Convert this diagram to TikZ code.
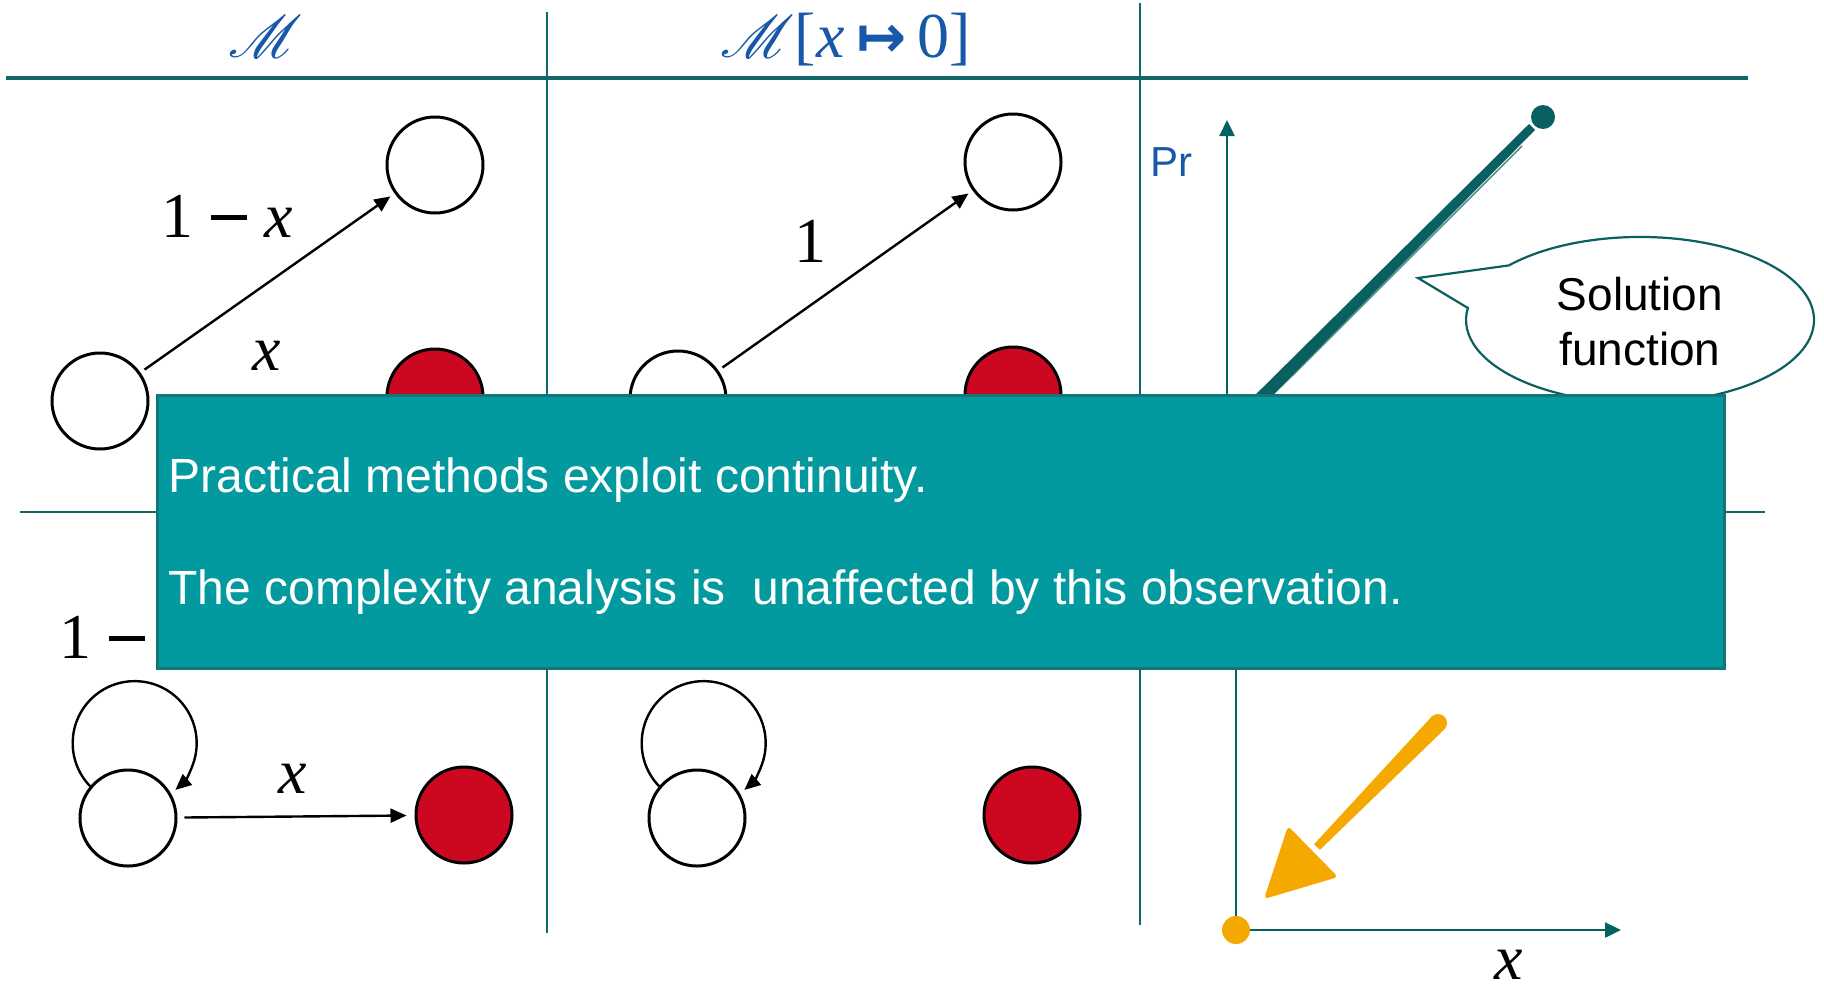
\documentclass[tikz,border=0pt]{standalone}
\usepackage{fontspec}
\usepackage{mathrsfs}
\usetikzlibrary{arrows.meta}
\newfontfamily\tms{Liberation Serif}
\newfontfamily\arl{Liberation Sans}
\newfontfamily\dvs{DejaVu Sans}
\definecolor{gridc}{RGB}{18,104,104}
\definecolor{axc}{RGB}{6,98,96}
\definecolor{boxfill}{RGB}{2,153,159}
\definecolor{boxline}{RGB}{18,118,119}
\definecolor{tred}{RGB}{204,8,32}
\definecolor{tblue}{RGB}{24,88,168}
\definecolor{torange}{RGB}{245,168,0}
\definecolor{soln}{RGB}{10,96,96}
\newcommand{\bigscrM}{\scalebox{1.2}[1.2]{$\mathscr{M}$}}
\newcommand{\thickminus}{\rule[0.27em]{0.56em}{0.07em}}
\begin{document}
\begin{tikzpicture}[x=0.5pt,y=-0.5pt,
  st/.style={circle,draw=black,line width=1.5pt,minimum size=48pt,inner sep=0pt,fill=white},
  rd/.style={st,fill=tred},
  arr/.style={-{Triangle[length=8pt,width=7pt]},line width=1.2pt,shorten <=2.5pt,shorten >=2.5pt},
  looparr/.style={-{Triangle[length=8pt,width=7pt]},line width=1.2pt},
  lbl/.style={font=\fontsize{32}{36}\selectfont\tms,inner sep=0pt,anchor=base},
  hdr/.style={font=\fontsize{32}{36}\selectfont\tms,text=tblue,inner sep=0pt,anchor=base},
  vline/.style={draw=gridc,line width=1pt},
  axis/.style={draw=axc,line width=1.2pt},
  axarr/.style={axis,-{Triangle[length=8pt,width=7.5pt]}},
  boxtext/.style={font=\fontsize{24}{28}\selectfont\arl,text=white,inner sep=0pt,anchor=base west},
  calltext/.style={font=\fontsize{23}{27}\selectfont\arl,text=black,inner sep=0pt,anchor=base}]
\useasboundingbox (0,0) rectangle (1824,991);
\fill[white] (0,0) rectangle (1824,991);

% grid
\coordinate (v1t) at (547,12);  \coordinate (v1b) at (547,933);
\coordinate (v2t) at (1140,3);  \coordinate (v2b) at (1140,925);
\coordinate (h1l) at (6,78);    \coordinate (h1r) at (1748,78);
\coordinate (h2l) at (20,512);  \coordinate (h2r) at (1765,512);
\draw[vline] (v1t) -- (v1b);
\draw[vline] (v2t) -- (v2b);
\draw[draw=gridc,line width=2pt] (h1l) -- (h1r);
\draw[draw=gridc,line width=1.4pt] (h2l) -- (h2r);

% headers
\node[hdr] (hM) at (266,57) {\bigscrM};
\node[hdr] (hM0) at (846,57) {\bigscrM[\textit{x}\hspace{0.18em}{\dvs\bfseries\fontsize{30}{34}\selectfont ↦}\hspace{0.18em}0]};

% top-left panel
\node[st] (A) at (100,401) {};
\node[st] (B) at (435,165) {};
\node[rd] (C) at (435,397) {};
\draw[arr] (A) -- (B);
\node[lbl] (l1) at (227,237) {1\hspace{0.27em}\thickminus\hspace{0.27em}\textit{x}};
\node[lbl] (l2) at (267,370) {\textit{x}};

% top-middle panel
\node[st] (D) at (678,399) {};
\node[st] (E) at (1013,162) {};
\node[rd] (F) at (1013,395) {};
\draw[arr] (D) -- (E);
\node[lbl] (l3) at (810,262) {1};

% bottom-left panel
\node[st] (G) at (128,818) {};
\node[rd] (H) at (464,815) {};
\draw[looparr] (G.140) arc[start angle=136,end angle=409,radius=62];
\draw[arr,shorten <=3.5pt,shorten >=4pt] (G) -- (H);
\node[lbl] (l4) at (125,658) {1\hspace{0.27em}\thickminus\hspace{0.27em}\textit{x}};
\node[lbl] (l5) at (293,793) {\textit{x}};

% bottom-middle panel
\node[st] (I) at (697,818) {};
\node[rd] (J) at (1032,815) {};
\draw[looparr] (I.140) arc[start angle=136,end angle=409,radius=62];

% right panel: axes
\coordinate (yb) at (1227,540);
\coordinate (yt) at (1227,120);
\draw[axarr] (yb) -- (yt);
\node[font=\fontsize{21}{24}\selectfont\arl,text=tblue,inner sep=0pt,anchor=base west] (pr) at (1150,176) {Pr};
\coordinate (O) at (1236,930);
\coordinate (ob) at (1236,600);
\coordinate (xt) at (1621,930);
\draw[axis] (O) -- (ob);
\draw[axarr] (O) -- (xt);
\node[lbl] (lx) at (1509,979) {\textit{x}};

% solution function line
\fill[soln] (1155,514) -- (1145,504) -- (1529,124) -- (1535,130) -- cycle;
\draw[soln,line width=0.8pt,opacity=0.7] (1162,503) -- (1300,368) -- (1522,146);
\draw[soln,line width=0.8pt,opacity=0.6] (1148,512) -- (1330,334) -- (1525,134);
\fill[soln] (1543,117) circle[radius=12];

% callout
\coordinate (ctip) at (1418,278);
\draw[draw=soln,line width=1.1pt,fill=white] (1508.9,265.4) arc[start angle=221.1,end angle=548.3,x radius=174,y radius=83] -- (ctip) -- cycle;
\node[calltext] (s1) at (1640,310) {Solution};
\node[calltext] (s2) at (1640,365) {function};

% orange arrow and dot
\fill[torange] (1444.4,729.3) -- (1431.6,716.7) -- (1314.1,844.2) -- (1319.9,849.8) -- cycle;
\fill[torange] (1438,723) circle[radius=9];
\fill[torange,rounded corners=2pt] (1288,826) -- (1338,877) -- (1264,899) -- cycle;
\fill[torange] (O) circle[radius=14];

% overlay box
\node[draw=boxline,line width=1.5pt,fill=boxfill,minimum width=783.5pt,minimum height=136.5pt,inner sep=0pt,anchor=north west] (box) at (156,394) {};
\node[boxtext] (t1) at (168,492) {Practical methods exploit continuity.};
\node[boxtext] (t2) at (168,604) {The complexity analysis is~ unaffected by this observation.};
\end{tikzpicture}
\end{document}
